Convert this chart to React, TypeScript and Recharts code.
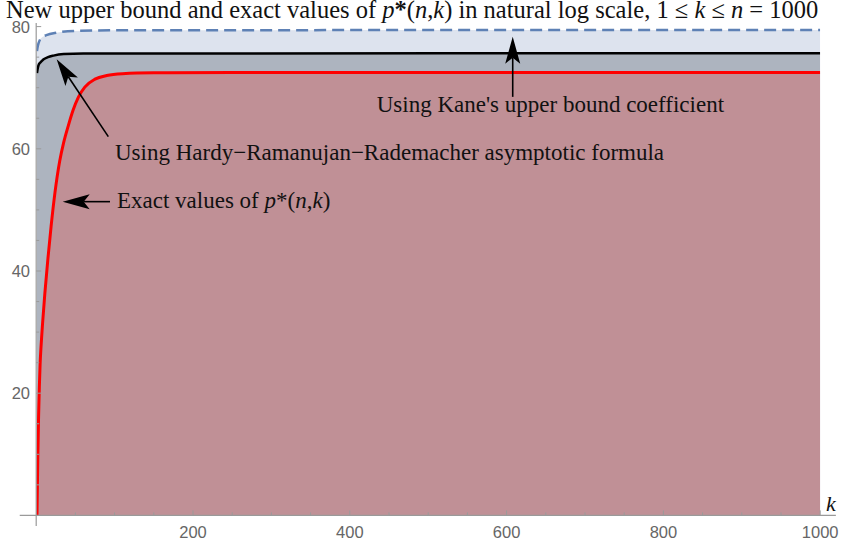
import React from 'react';
import { ComposedChart, Area, Line, XAxis, YAxis, ReferenceLine } from 'recharts';

// ln p*(n,k), exact values (red)
const exactK = [1, 2, 3, 4, 5, 6, 7, 8, 11, 15, 19, 24, 30, 35, 41, 47, 54, 62, 75, 90, 110, 150, 250, 1000];
const exactLog = [0, 9, 16, 21, 24.8, 27.3, 29.3, 31.2, 36.3, 42.1, 47.3, 52.9, 58, 61, 63.8, 66.3, 68.5, 70.1, 71.4, 72, 72.3, 72.45, 72.5, 72.5];

// Hardy-Ramanujan-Rademacher asymptotic (black)
const hrrK = [1, 2, 3, 5, 9, 15, 22, 35, 60, 1000];
const hrrLog = [72.4, 73.2, 73.7, 74.1, 74.6, 75.0, 75.25, 75.5, 75.6, 75.65];

// Kane's upper bound coefficient (blue dashed)
const kaneK = [1, 2, 3, 5, 8, 13, 26, 50, 100, 1000];
const kaneLog = [76.0, 76.8, 77.3, 77.9, 78.3, 78.6, 79.0, 79.3, 79.4, 79.45];

const xTicks = [50, 100, 150, 200, 250, 300, 350, 400, 450, 500, 550, 600, 650, 700, 750, 800, 850, 900, 950, 1000];
const yTicks = [5, 10, 15, 20, 25, 30, 35, 40, 45, 50, 55, 60, 65, 70, 75, 80];

const exactData = exactK.map((k, i) => ({ k, v: exactLog[i] }));
const hrrData = hrrK.map((k, i) => ({ k, v: hrrLog[i] }));
const kaneData = kaneK.map((k, i) => ({ k, v: kaneLog[i] }));

const W = 844;
const H = 548;
const PLOT_LEFT = 36.2;
const PLOT_RIGHT = 820.2;
const PLOT_TOP = 26.6;
const PLOT_BOTTOM = 515.4;
const X_AXIS_H = 30;

const AXIS = '#9a9a9a';
const LABEL = '#666666';
const SERIF = '"Liberation Serif", "Times New Roman", serif';
const SANS = '"Liberation Sans", Arial, sans-serif';

const XTick = (props: any) => {
  const { x, payload } = props;
  const major = payload.value % 200 === 0;
  return (
    <g>
      <line x1={x} x2={x} y1={PLOT_BOTTOM} y2={PLOT_BOTTOM - (major ? 5 : 3)} stroke={AXIS} />
      {major && (
        <text x={x} y={PLOT_BOTTOM + 23} textAnchor="middle" fill={LABEL} fontSize={16.5} fontFamily={SANS}>
          {payload.value}
        </text>
      )}
    </g>
  );
};

const YTick = (props: any) => {
  const { y, payload } = props;
  const major = payload.value % 20 === 0;
  return (
    <g>
      <line x1={PLOT_LEFT} x2={PLOT_LEFT + (major ? 5 : 3)} y1={y} y2={y} stroke={AXIS} />
      {major && (
        <text x={30} y={y + 6} textAnchor="end" fill={LABEL} fontSize={16.5} fontFamily={SANS}>
          {payload.value}
        </text>
      )}
    </g>
  );
};

// line with a notched, filled arrowhead at (x2, y2)
const Arrow = (props: any) => {
  const { x1, y1, x2, y2 } = props;
  const a = Math.atan2(y2 - y1, x2 - x1);
  const c = Math.cos(a);
  const s = Math.sin(a);
  const L = 27;
  const HW = 7.5;
  const N = 21;
  const pt = (dx: number, dy: number) => `${x2 + dx * c - dy * s},${y2 + dx * s + dy * c}`;
  return (
    <g>
      <line x1={x1} y1={y1} x2={x2 - N * c} y2={y2 - N * s} stroke="#000" strokeWidth={1.6} />
      <polygon points={[pt(0, 0), pt(-L, -HW), pt(-N, 0), pt(-L, HW)].join(' ')} fill="#000" />
    </g>
  );
};

export default function App() {
  return (
    <div style={{ position: 'absolute', left: 0, top: 0, width: W, height: H, background: '#fff' }}>
      <ComposedChart
        width={W}
        height={H}
        margin={{ top: PLOT_TOP, right: W - PLOT_RIGHT, left: 0, bottom: H - PLOT_BOTTOM - X_AXIS_H }}
      >
        <XAxis
          type="number"
          dataKey="k"
          domain={[0, 1000]}
          ticks={xTicks}
          interval={0}
          height={X_AXIS_H}
          axisLine={false}
          tickLine={false}
          tickSize={0}
          tickMargin={0}
          tick={<XTick />}
          allowDataOverflow
        />
        <YAxis
          type="number"
          domain={[0, 80]}
          ticks={yTicks}
          interval={0}
          width={PLOT_LEFT}
          axisLine={false}
          tickLine={false}
          tickSize={0}
          tickMargin={0}
          tick={<YTick />}
          allowDataOverflow
        />
        <Area data={kaneData} dataKey="v" type="monotone" fill="#dde3ee" fillOpacity={1} stroke="none" isAnimationActive={false} />
        <Area data={hrrData} dataKey="v" type="monotone" fill="#adb4bf" fillOpacity={1} stroke="none" isAnimationActive={false} />
        <Area data={exactData} dataKey="v" type="monotone" fill="#c09096" fillOpacity={1} stroke="none" isAnimationActive={false} />
        <Line data={kaneData} dataKey="v" type="monotone" stroke="#5e81b5" strokeWidth={2.5} strokeDasharray="12 6" dot={false} isAnimationActive={false} />
        <Line data={hrrData} dataKey="v" type="monotone" stroke="#000000" strokeWidth={2.5} dot={false} isAnimationActive={false} />
        <Line data={exactData} dataKey="v" type="monotone" stroke="#ff0000" strokeWidth={3} dot={false} isAnimationActive={false} />
        <ReferenceLine segment={[{ x: -21, y: 0 }, { x: 1020, y: 0 }]} stroke={AXIS} strokeWidth={1.2} ifOverflow="visible" />
        <ReferenceLine segment={[{ x: 0, y: -1.75 }, { x: 0, y: 80.6 }]} stroke={AXIS} strokeWidth={1.2} ifOverflow="visible" />
        <ReferenceLine segment={[{ x: 607.8, y: 68.5 }, { x: 607.8, y: 78.35 }]} ifOverflow="visible" shape={Arrow} />
        <ReferenceLine segment={[{ x: 92, y: 62.0 }, { x: 26.1, y: 74.65 }]} ifOverflow="visible" shape={Arrow} />
        <ReferenceLine segment={[{ x: 94.1, y: 51.35 }, { x: 33.8, y: 51.35 }]} ifOverflow="visible" shape={Arrow} />
      </ComposedChart>
      <svg width={W} height={H} style={{ position: 'absolute', left: 0, top: 0, pointerEvents: 'none' }}>
        <text x={6} y={17.5} fontSize={24.5} fontFamily={SERIF} fill="#111">
          New upper bound and exact values of <tspan fontStyle="italic">p</tspan>
          <tspan fontWeight="bold">*</tspan>(<tspan fontStyle="italic">n</tspan>,<tspan fontStyle="italic">k</tspan>) in natural log scale, 1 ≤ <tspan fontStyle="italic">k</tspan> ≤ <tspan fontStyle="italic">n</tspan> = 1000
        </text>
        <text x={376.7} y={112} fontSize={23} fontFamily={SERIF} fill="#111">
          Using Kane's upper bound coefficient
        </text>
        <text x={115} y={160} fontSize={23} fontFamily={SERIF} fill="#111">
          Using Hardy−Ramanujan−Rademacher asymptotic formula
        </text>
        <text x={117} y={208} fontSize={23} fontFamily={SERIF} fill="#111">
          Exact values of <tspan fontStyle="italic">p</tspan>*(<tspan fontStyle="italic">n</tspan>,<tspan fontStyle="italic">k</tspan>)
        </text>
        <text x={826} y={511} fontSize={22} fontStyle="italic" fontFamily={SERIF} fill="#111">
          k
        </text>
      </svg>
    </div>
  );
}
